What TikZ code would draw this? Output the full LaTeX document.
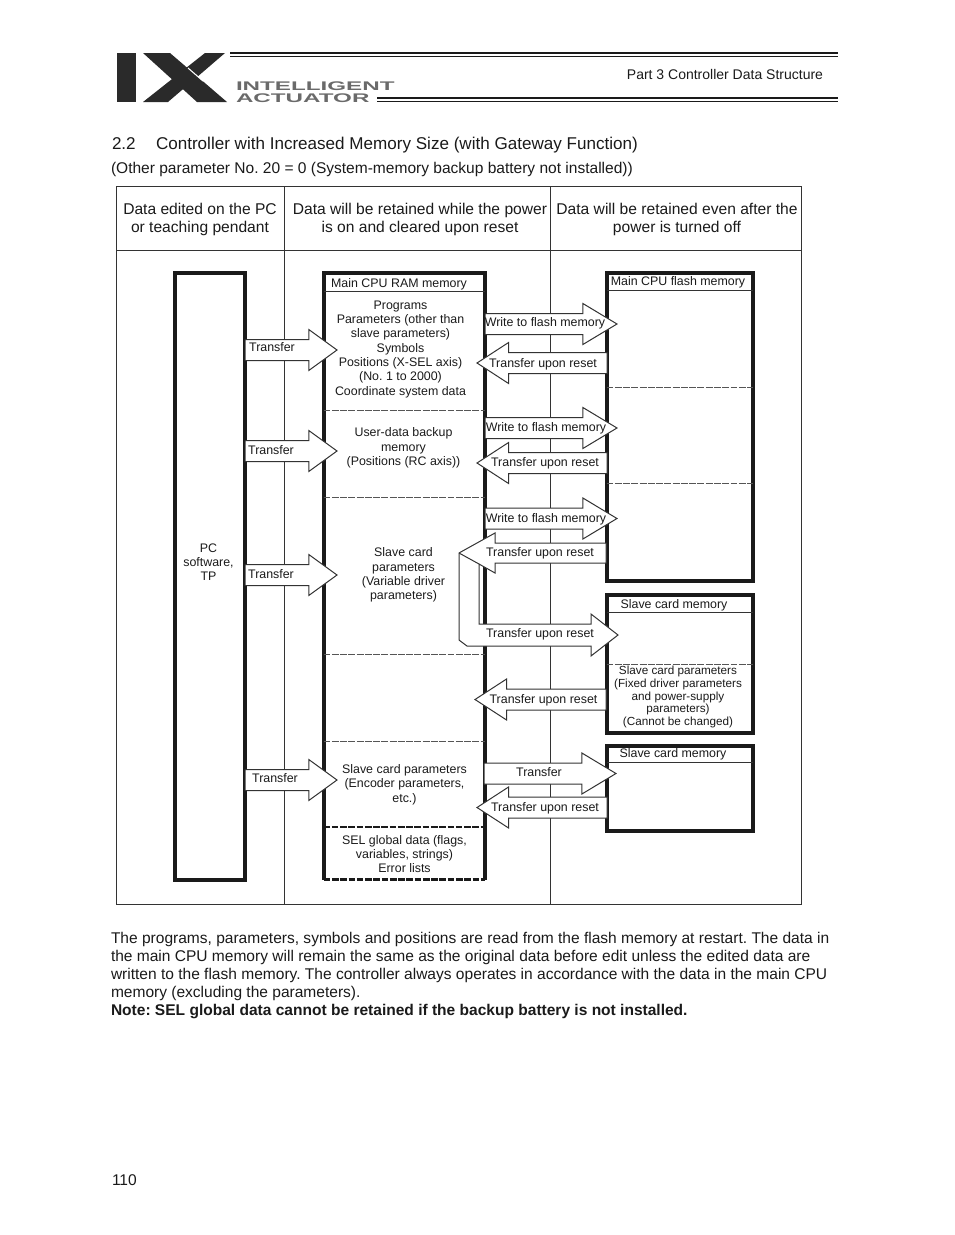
\documentclass[tikz,border=0pt]{standalone}
\usepackage{fontspec}
\setmainfont{Liberation Sans}
\usetikzlibrary{positioning, shapes.arrows}
\definecolor{inkblack}{HTML}{1A1A1A}
\definecolor{rulegray}{HTML}{333333}
\definecolor{dashgray}{HTML}{555555}
\definecolor{logogray}{HTML}{2A2A2A}
\definecolor{lettergray}{HTML}{6A6A6A}
\newcommand{\pxu}{0.75pt}

\begin{document}
\frenchspacing
\begin{tikzpicture}[
    x=0.75pt, y=-0.75pt,
    every node/.style={text=inkblack, inner sep=0pt, outer sep=0pt},
    table line/.style={draw=rulegray, line width=0.75pt},
    heavy line/.style={draw=inkblack, line width=3pt},
    thin line/.style={draw=rulegray, line width=0.7pt},
    split line/.style={draw=dashgray, line width=0.75pt, dash pattern=on 5.2pt off 1pt},
    heavy dash/.style={draw=inkblack, line width=2pt, dash pattern=on 5pt off 1.2pt},
    membox/.style={heavy line, anchor=north west, minimum width=#1*\pxu},
    membox/.default=146.2,
    memory text/.style={font=\fontsize{9.3}{10.75}\selectfont, align=center, yshift=-0.8pt},
    head text/.style={font=\fontsize{11.7}{13.6}\selectfont, align=center, yshift=-1pt},
    body text/.style={font=\fontsize{11.65}{13.5}\selectfont, anchor=west, yshift=-1.4pt},
    flow text/.style={font=\fontsize{9.3}{10.7}\selectfont, text height=6.8pt, text depth=2pt, yshift=-0.7pt},
    flowarrow/.style={
        single arrow, draw=rulegray, fill=white, line width=0.75pt,
        text height=15pt, text depth=0pt, text width=0pt,
        single arrow head extend=7.5pt, single arrow tip angle=#1,
        anchor=tail, inner sep=0pt
    },
    flowarrow/.default=62,
    back/.style={shape border rotate=180},
    logo text/.style={anchor=base west, xscale=1.93, transform shape, text=lettergray, font=\fontsize{9.4}{12}\bfseries\selectfont},
]

\useasboundingbox (0,0) rectangle (954,1235);

% === Logo ===
\fill[logogray] (117,53) rectangle (136,102);
\fill[logogray] (205,53) -- (225,53) -- (168,102) -- (143,102) -- cycle;
\fill[logogray] (143,53) -- (170,53) -- (227,102) -- (197,102) -- cycle;
\draw[white, line width=0.8pt] (188,68) -- (203,81);
\draw[inkblack, line width=1.5pt] (230,53) -- (838,53);
\draw[inkblack, line width=0.6pt] (230,56) -- (838,56);
\draw[inkblack, line width=1.5pt] (377,98) -- (838,98);
\draw[inkblack, line width=0.6pt] (377,101) -- (838,101);
\node[logo text] (intelligent) at (236,90) {INTELLIGENT};
\node[logo text] (actuator) at (236,102) {ACTUATOR};

% === Page heading ===
\node[anchor=base east, font=\fontsize{10.5}{12}\selectfont] (part) at (823,79) {Part 3 Controller Data Structure};
\node[anchor=base west, font=\fontsize{12.8}{14}\selectfont] (secno) at (112,149) {2.2};
\node[anchor=base west, font=\fontsize{12.8}{14}\selectfont] (sectitle) at (156,149) {Controller with Increased Memory Size (with Gateway Function)};
\node[anchor=base west, font=\fontsize{11.65}{13}\selectfont] (secnote) at (111,173) {(Other parameter No. 20 = 0 (System-memory backup battery not installed))};

% === Table ===
\draw[table line] (116.5,186.5) rectangle (801,904);
\draw[table line] (116.5,250) -- (801,250);
\draw[table line] (284.5,186.5) -- (284.5,904);
\draw[table line] (550.5,186.5) -- (550.5,904);
\node[head text] (coledit) at (200,218) {Data edited on the PC\\or teaching pendant};
\node[head text] (colpower) at (420,218) {Data will be retained while the power\\is on and cleared upon reset};
\node[head text] (colkeep) at (677,218) {Data will be retained even after the\\power is turned off};

% === PC software ===
\node[membox=69.4, minimum height=607*\pxu] (pc) at (175.3,273) {};
\node[memory text] (pctext) at (208.5,561) {PC\\software,\\TP};

% === Main CPU RAM memory ===
\node[anchor=north west, minimum width=161*\pxu, minimum height=606.5*\pxu] (ram) at (323.7,273) {};
\draw[heavy line] (ram.south west) -- (ram.north west) -- (ram.north east) -- (ram.south east);
\draw[heavy dash] (ram.south west) -- (ram.south east);
\draw[heavy dash] (323.5,827) -- (485,827);
\draw[thin line] (323.5,291) -- (485,291);
\draw[split line] (323.5,410) -- (485,410);
\draw[split line] (323.5,497) -- (485,497);
\draw[split line] (323.5,654) -- (485,654);
\draw[split line] (323.5,741) -- (485,741);

% === Main CPU flash memory ===
\node[membox, minimum height=308*\pxu] (flash) at (606.5,273) {};
\draw[thin line] (606.5,290) -- (752.7,290);
\draw[split line] (606.5,387) -- (752.7,387);
\draw[split line] (606.5,483) -- (752.7,483);

% === Slave card memory (upper) ===
\node[membox, minimum height=137.5*\pxu] (slaveup) at (606.5,595) {};
\draw[thin line] (606.5,612) -- (752.7,612);
\draw[split line] (606.5,664) -- (752.7,664);

% === Slave card memory (lower) ===
\node[membox, minimum height=85*\pxu] (slavelow) at (606.5,745.5) {};
\draw[thin line] (606.5,762) -- (752.7,762);

% === Transfer from PC ===
\node[flowarrow=72, minimum height=92*\pxu] (pcA) at (245,350) {};
\node[flowarrow=72, minimum height=92*\pxu] (pcB) at (245,451) {};
\node[flowarrow=72, minimum height=92*\pxu] (pcC) at (245,575) {};
\node[flowarrow=72, minimum height=92*\pxu] (pcD) at (245,780) {};

% === Write to flash ===
\node[flowarrow, minimum height=132*\pxu] (writeA) at (485,324) {};
\node[flowarrow, minimum height=132*\pxu] (writeB) at (485,428) {};
\node[flowarrow, minimum height=132*\pxu] (writeC) at (485,518.5) {};

% === Transfer upon reset ===
\node[flowarrow=66, back, minimum height=130*\pxu] (resetA) at (607,363) {};
\node[flowarrow=66, back, minimum height=130*\pxu] (resetB) at (607,463) {};

% === Reset path that turns back to slave card memory ===
\draw[draw=rulegray, fill=white, line width=0.75pt]
    (459,553) -- (495,533) -- (495,543) -- (606,543) -- (606,563) -- (495,563)
    -- (495,573) -- (479,564) -- (479,624) -- (591,624) -- (591,614) -- (618,635)
    -- (591,656) -- (591,646) -- (467,646) -- (459,640) -- cycle;
\draw[draw=rulegray, line width=0.75pt] (459,553) -- (479,564);

\node[flowarrow=66, back, minimum height=131*\pxu] (resetD) at (606,699.5) {};
\node[flowarrow, minimum height=132*\pxu] (slavewrite) at (484,773.5) {};
\node[flowarrow=66, back, minimum height=130*\pxu] (resetE) at (607,807.5) {};

% === Memory texts ===
\node[memory text] (ramtitle) at (399,283) {Main CPU RAM memory};
\node[memory text] (ramprog) at (400.5,348) {Programs\\Parameters (other than\\slave parameters)\\Symbols\\Positions (X-SEL axis)\\(No. 1 to 2000)\\Coordinate system data};
\node[memory text] (ramuser) at (403.5,447) {User-data backup\\memory\\(Positions (RC axis))};
\node[memory text] (ramslave) at (403.5,574) {Slave card\\parameters\\(Variable driver\\parameters)};
\node[memory text] (ramenc) at (404.5,783.5) {Slave card parameters\\(Encoder parameters,\\etc.)};
\node[memory text] (ramsel) at (404.5,853) {SEL global data (flags,\\variables, strings)\\Error lists};
\node[memory text] (flashtitle) at (678,281) {Main CPU flash memory};
\node[memory text] (slaveuptitle) at (674,604) {Slave card memory};
\node[memory text, font=\fontsize{8.8}{9.6}\selectfont] (slavefixed) at (678,696) {Slave card parameters\\(Fixed driver parameters\\and power-supply\\parameters)\\(Cannot be changed)};
\node[memory text] (slavelowtitle) at (673,753) {Slave card memory};

% === Arrow labels ===
\node[flow text] (lbpcA) at (272,347) {Transfer};
\node[flow text] (lbpcB) at (271,450) {Transfer};
\node[flow text] (lbpcC) at (271,574) {Transfer};
\node[flow text] (lbpcD) at (275,778) {Transfer};
\node[flow text] (lbwriteA) at (545,322) {Write to flash memory};
\node[flow text] (lbwriteB) at (546,427) {Write to flash memory};
\node[flow text] (lbwriteC) at (546,518) {Write to flash memory};
\node[flow text] (lbresetA) at (543,363) {Transfer upon reset};
\node[flow text] (lbresetB) at (545,462) {Transfer upon reset};
\node[flow text] (lbresetC) at (540,552) {Transfer upon reset};
\node[flow text] (lbturn) at (540,633) {Transfer upon reset};
\node[flow text] (lbresetD) at (543.5,699) {Transfer upon reset};
\node[flow text] (lbslave) at (539,772) {Transfer};
\node[flow text] (lbresetE) at (545,807) {Transfer upon reset};

% === Text under the table ===
\node[body text] (bodyA) at (111,938) {The programs, parameters, symbols and positions are read from the flash memory at restart. The data in};
\node[body text] (bodyB) at (111,956) {the main CPU memory will remain the same as the original data before edit unless the edited data are};
\node[body text] (bodyC) at (111,974) {written to the flash memory. The controller always operates in accordance with the data in the main CPU};
\node[body text] (bodyD) at (111,992) {memory (excluding the parameters).};
\node[body text, font=\fontsize{11.65}{13.5}\bfseries\selectfont] (bodyE) at (111,1010) {Note: SEL global data cannot be retained if the backup battery is not installed.};
\node[anchor=base west, font=\fontsize{11.65}{13}\selectfont] (pageno) at (112,1185) {110};

\end{tikzpicture}
\end{document}
